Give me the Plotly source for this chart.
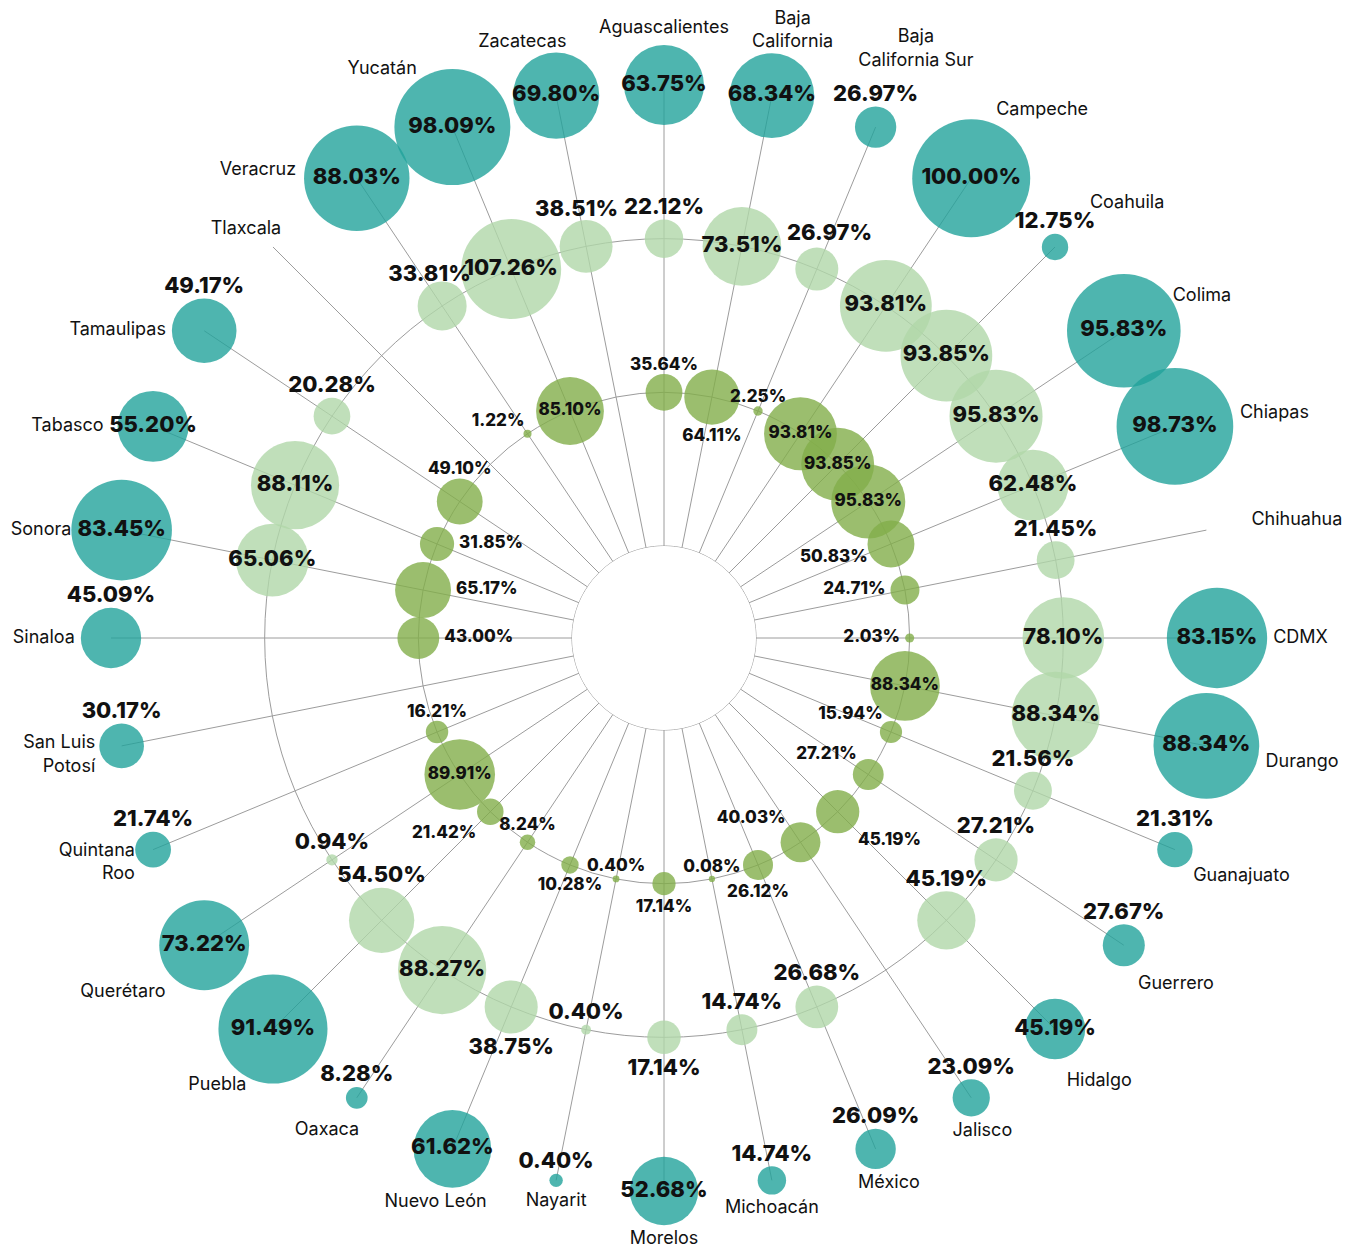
import plotly.graph_objects as go

# states clockwise from the top
states = [
    "Aguascalientes", "Baja California", "Baja California Sur", "Campeche",
    "Coahuila", "Colima", "Chiapas", "Chihuahua", "CDMX", "Durango",
    "Guanajuato", "Guerrero", "Hidalgo", "Jalisco", "México", "Michoacán",
    "Morelos", "Nayarit", "Nuevo León", "Oaxaca", "Puebla", "Querétaro",
    "Quintana Roo", "San Luis Potosí", "Sinaloa", "Sonora", "Tabasco",
    "Tamaulipas", "Tlaxcala", "Veracruz", "Yucatán", "Zacatecas",
]

# inner ring (dark green)
inner_pct = [
    35.64, 64.11, 2.25, 93.81, 93.85, 95.83, 50.83, 24.71, 2.03, 88.34,
    15.94, 27.21, 45.19, 40.03, 26.12, 0.08, 17.14, 0.40, 10.28, 8.24,
    21.42, 89.91, 16.21, None, 43.00, 65.17, 31.85, 49.10, None, 1.22,
    85.10, None,
]

# middle ring (light green)
middle_pct = [
    22.12, 73.51, 26.97, 93.81, 93.85, 95.83, 62.48, 21.45, 78.10, 88.34,
    21.56, 27.21, 45.19, None, 26.68, 14.74, 17.14, 0.40, 38.75, 88.27,
    54.50, 0.94, None, None, None, 65.06, 88.11, 20.28, None, 33.81,
    107.26, 38.51,
]

# outer ring (teal)
outer_pct = [
    63.75, 68.34, 26.97, 100.00, 12.75, 95.83, 98.73, None, 83.15, 88.34,
    21.31, 27.67, 45.19, 23.09, 26.09, 14.74, 52.68, 0.40, 61.62, 8.28,
    91.49, 73.22, 21.74, 30.17, 45.09, 83.45, 55.20, 49.17, None, 88.03,
    98.09, 69.80,
]

W, H = 1356, 1252
CX, CY = 656, 630          # centre of the wheel, px (page adds 8px body margin)
R_OUT, R_HOLE = 553, 92    # outer ring / white hole radius, px
STEP = 360 / len(states)

FONT = "Inter"
GRID = "#9c9c9c"
INNER_COLOR = "rgba(130,174,74,0.8)"
MIDDLE_COLOR = "rgba(176,215,169,0.8)"
OUTER_COLOR = "rgba(34,162,155,0.8)"

# where a label goes when it does not sit inside its bubble
INNER_POS = {
    "Aguascalientes": "top center", "Baja California": "bottom center",
    "Baja California Sur": "top center", "Chiapas": "middle left",
    "Chihuahua": "middle left", "CDMX": "middle left",
    "Guanajuato": "top left", "Guerrero": "top left",
    "Hidalgo": "bottom right", "Jalisco": "top left",
    "México": "bottom center", "Michoacán": "top center",
    "Morelos": "bottom center", "Nayarit": "top center",
    "Nuevo León": "bottom center", "Oaxaca": "top center",
    "Puebla": "bottom left", "Quintana Roo": "top center",
    "Sinaloa": "middle right", "Sonora": "middle right",
    "Tabasco": "middle right", "Tamaulipas": "top center",
    "Veracruz": "top left",
}
MIDDLE_BELOW = {"Nuevo León", "Morelos"}
OUTER_INSIDE = {"Hidalgo"}

NAME_POS = {
    "Aguascalientes": "top center", "Baja California": "top center",
    "Baja California Sur": "top center", "Campeche": "top right",
    "Coahuila": "top right", "Colima": "middle right",
    "Chiapas": "middle right", "Chihuahua": "middle right",
    "CDMX": "middle right", "Durango": "middle right",
    "Guanajuato": "bottom right", "Guerrero": "bottom right",
    "Hidalgo": "bottom right", "Jalisco": "bottom center",
    "México": "bottom center", "Michoacán": "bottom center",
    "Morelos": "bottom center", "Nayarit": "bottom center",
    "Nuevo León": "bottom center", "Oaxaca": "bottom center",
    "Puebla": "bottom left", "Querétaro": "bottom left",
    "Quintana Roo": "middle left", "San Luis Potosí": "middle left",
    "Sinaloa": "middle left", "Sonora": "middle left",
    "Tabasco": "middle left", "Tamaulipas": "middle left",
    "Tlaxcala": "top left", "Veracruz": "middle left",
    "Yucatán": "top left", "Zacatecas": "top center",
}
WRAP = {
    "Baja California": "Baja<br>California",
    "Baja California Sur": "Baja<br>California Sur",
    "Quintana Roo": "Quintana<br>Roo",
    "San Luis Potosí": "San Luis<br>Potosí",
}

# hand nudges of labels: (extra px pushed outward from the bubble, degrees)
NAME_NUDGE = {
    "Aguascalientes": (7, 0), "Baja California": (5, 2.2),
    "Baja California Sur": (30, 4.6), "Campeche": (0, -2.5),
    "Colima": (11, -4.4), "Chiapas": (6, -1.4), "Chihuahua": (41, -1),
    "Durango": (4, 1.8), "Guerrero": (0, 1.2), "Hidalgo": (0, 2.3),
    "Jalisco": (9, -1.4), "México": (6, -1.5), "Nuevo León": (8, 1.9),
    "Oaxaca": (29, 3.8), "Puebla": (-9, -1.5), "Quintana Roo": (0, -1.5),
    "San Luis Potosí": (0, -1), "Veracruz": (14, 1.5),
    "Zacatecas": (8, -3.6), "Sonora": (-6, 0), "Tabasco": (8, 0),
    "Tlaxcala": (0, 1.2), "Yucatán": (0, 1),
}
PCT_NUDGE = {
    (2, "Veracruz"): (4, -2.2), (2, "Zacatecas"): (0, -1.4),
    (2, "Baja California Sur"): (8, 2), (1, "Chiapas"): (0, 3.5),
}


def make_scale(vals, rmin, rmax, power):
    vmax = max(v for v in vals if v is not None)
    return lambda v: rmin + (rmax - rmin) * (v / vmax) ** power


inner_r = make_scale(inner_pct, 3, 37, 0.8)
middle_r = make_scale(middle_pct, 4, 50, 0.7)
outer_r = make_scale(outer_pct, 6.5, 59, 1.0)


def offset_size(pos, rb, extra=0):
    # plotly pushes text out by 1.25*marker radius + 1, so size an
    # invisible marker to land the text just off the real bubble
    if pos == "middle center":
        return 0
    diag = pos.split()[0] != "middle" and pos.split()[1] != "center"
    gap = 0 if pos.startswith("top") else (4 if pos.startswith("bottom") else 5)
    R = rb * (0.75 if diag else 1) + gap + extra
    return 2 * max(R - 1, 0) / 1.25


def bubbles(ring, vals, color, scale):
    idx = [i for i, v in enumerate(vals) if v is not None]
    return go.Scatterpolar(
        r=[ring] * len(idx), theta=[i * STEP for i in idx], mode="markers",
        marker=dict(size=[2 * scale(vals[i]) for i in idx], color=color,
                    opacity=1, line=dict(width=0)),
        text=[f"{states[i]}: {vals[i]:.2f}%" for i in idx], hoverinfo="text",
        cliponaxis=False,
    )


def labels(ring, idx, texts, pos, sizes, dtheta, fsize, weight):
    return go.Scatterpolar(
        r=[ring] * len(idx),
        theta=[i * STEP + d for i, d in zip(idx, dtheta)],
        mode="markers+text",
        marker=dict(size=sizes, color="rgba(0,0,0,0)", opacity=1,
                    line=dict(width=0)),
        text=texts, textposition=pos,
        textfont=dict(family=FONT, size=fsize, color="#111111", weight=weight),
        hoverinfo="skip", cliponaxis=False,
    )


def pct_labels(ring, vals, scale, pos_fn, fsize):
    idx = [i for i, v in enumerate(vals) if v is not None]
    pos = [pos_fn(i, vals[i]) for i in idx]
    nd = [PCT_NUDGE.get((ring, states[i]), (0, 0)) for i in idx]
    sizes = [offset_size(p, scale(vals[i]), d[0]) for p, i, d in zip(pos, idx, nd)]
    texts = [f"{vals[i]:.2f}%" for i in idx]
    return labels(ring, idx, texts, pos, sizes, [d[1] for d in nd], fsize, 800)


def inner_pos(i, v):
    return "middle center" if v >= 80 else INNER_POS[states[i]]


def middle_pos(i, v):
    if v >= 60:
        return "middle center"
    return "bottom center" if states[i] in MIDDLE_BELOW else "top center"


def outer_pos(i, v):
    return "middle center" if (v >= 50 or states[i] in OUTER_INSIDE) else "top center"


fig = go.Figure()

# outline of the white hole in the middle
fig.add_trace(go.Scatterpolar(
    r=[0] * 361, theta=list(range(361)), mode="lines",
    line=dict(color=GRID, width=1), hoverinfo="skip", cliponaxis=False,
))

fig.add_trace(bubbles(1, inner_pct, INNER_COLOR, inner_r))
fig.add_trace(bubbles(2, middle_pct, MIDDLE_COLOR, middle_r))
fig.add_trace(bubbles(3, outer_pct, OUTER_COLOR, outer_r))
fig.add_trace(pct_labels(1, inner_pct, inner_r, inner_pos, 17))
fig.add_trace(pct_labels(2, middle_pct, middle_r, middle_pos, 22))
fig.add_trace(pct_labels(3, outer_pct, outer_r, outer_pos, 22))

# state names beyond the outer ring
name_pos, name_sizes, name_dt = [], [], []
for i, s in enumerate(states):
    p = NAME_POS[s]
    v = outer_pct[i]
    rb = outer_r(v) if v is not None else 0
    extra, dt = NAME_NUDGE.get(s, (0, 0))
    if v is not None and outer_pos(i, v) != "middle center" and p.startswith("top"):
        extra += 24
    name_pos.append(p)
    name_sizes.append(offset_size(p, rb, extra + 1))
    name_dt.append(dt)
fig.add_trace(labels(3, list(range(len(states))),
                     [WRAP.get(s, s) for s in states],
                     name_pos, name_sizes, name_dt, 18, 400))

fig.update_layout(
    width=W, height=H, autosize=False,
    margin=dict(l=0, r=0, t=0, b=0),
    paper_bgcolor="white", showlegend=False,
    polar=dict(
        domain=dict(x=[(CX - R_OUT) / W, (CX + R_OUT) / W],
                    y=[(H - CY - R_OUT) / H, (H - CY + R_OUT) / H]),
        hole=R_HOLE / R_OUT,
        bgcolor="white",
        radialaxis=dict(range=[0, 3], tickvals=[1, 2],
                        showticklabels=False, ticks="", showline=False,
                        gridcolor=GRID, gridwidth=1),
        angularaxis=dict(type="linear", thetaunit="degrees",
                         direction="clockwise", rotation=90,
                         tickmode="linear", tick0=0, dtick=STEP,
                         showticklabels=False, ticks="", showline=False,
                         gridcolor=GRID, gridwidth=1),
    ),
)

fig.write_html("out.html")
